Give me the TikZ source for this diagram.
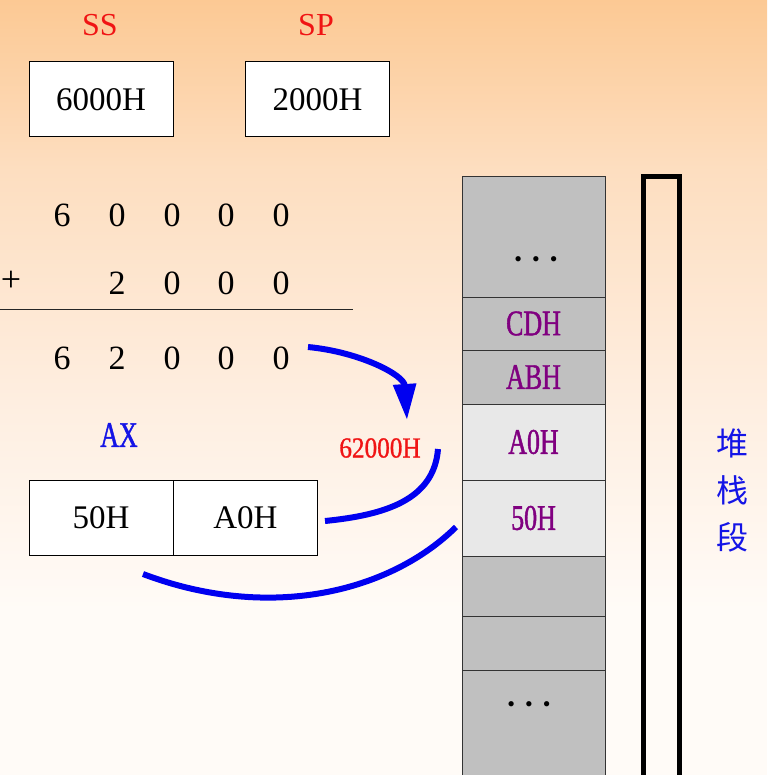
\documentclass[tikz,border=0pt]{standalone}
\usepackage{fontspec}
\setmainfont{Liberation Serif}
\newfontfamily\narrowserif[FakeStretch=0.87,FakeBold=1]{Liberation Serif}
\newfontfamily\condserif[FakeStretch=0.72,FakeBold=1.2]{Liberation Serif}
\newfontfamily\cjk{Noto Sans CJK SC}
\usetikzlibrary{arrows.meta}
\definecolor{bgA}{RGB}{252,201,148}
\definecolor{bgB}{RGB}{253,222,192}
\definecolor{bgC}{RGB}{254,238,224}
\definecolor{bgD}{RGB}{255,251,247}
\definecolor{cellgray}{RGB}{192,192,192}
\definecolor{celllight}{RGB}{232,232,232}
\definecolor{txtred}{RGB}{240,20,20}
\definecolor{txtblue}{RGB}{20,20,230}
\definecolor{txtpurple}{RGB}{128,0,128}
\definecolor{arrblue}{RGB}{0,0,240}
\begin{document}
\begin{tikzpicture}[x=1pt,y=-1pt,
  reglabel/.style={text=txtred, font=\fontsize{32}{32}\selectfont, inner sep=0pt},
  regbox/.style={draw=black, line width=1pt, fill=white, minimum width=144pt, minimum height=75pt, inner sep=0pt, font=\fontsize{33}{33}\selectfont},
  digit/.style={font=\fontsize{34}{34}\selectfont, inner sep=0pt},
  cell/.style={draw=black!80, line width=1pt, minimum width=143pt, inner sep=0pt, text=txtpurple, font=\condserif\fontsize{36}{36}\selectfont},
  dots/.style={font=\fontsize{22}{22}\selectfont, text=black, inner sep=0pt},
  bluearc/.style={draw=arrblue, line width=6pt},
]
\useasboundingbox (0,0) rectangle (767,775);
\clip (0,0) rectangle (767,775);
% background
\shade[top color=bgA, bottom color=bgB] (0,0) rectangle (767,170);
\shade[top color=bgB, bottom color=bgC] (0,170) rectangle (767,400);
\shade[top color=bgC, bottom color=bgD] (0,400) rectangle (767,610);
\fill[bgD] (0,610) rectangle (767,775);

% registers
\node[reglabel] (sslab) at (100,25) {SS};
\node[reglabel] (splab) at (316,25) {SP};
\node[regbox] (ss) at (101,99.5) {6000H};
\node[regbox] (sp) at (317.5,99.5) {2000H};

% addition
\foreach \x/\d [count=\i] in {62/6,117/0,172/0,226/0,281/0}
  \node[digit] (ra\i) at (\x,215) {\d};
\node[font=\fontsize{36}{36}\selectfont, inner sep=0pt] (plus) at (11,281) {+};
\foreach \x/\d [count=\i] in {117/2,172/0,226/0,281/0}
  \node[digit] (rb\i) at (\x,283) {\d};
\coordinate (ruleL) at (0,309);
\coordinate (ruleR) at (353,309);
\draw[line width=1pt, black!85] (ruleL) -- (ruleR);
\foreach \x/\d [count=\i] in {62/6,117/2,172/0,226/0,281/0}
  \node[digit] (rc\i) at (\x,358) {\d};

% AX register
\node[text=txtblue, font=\condserif\fontsize{36}{36}\selectfont, inner sep=0pt] (axlab) at (119,435) {AX};
\node[regbox] (ah) at (101,517.5) {50H};
\node[regbox] (al) at (245.5,517.5) {A0H};

% stack
\node[cell, fill=cellgray, minimum height=120pt] (c1) at (533.5,237) {};
\node[dots] (d1) at (536,262) {\textbullet\hspace{10pt}\textbullet\hspace{10pt}\textbullet};
\node[cell, fill=cellgray, minimum height=53pt] (c2) at (533.5,323.5) {CDH};
\node[cell, fill=cellgray, minimum height=54pt] (c3) at (533.5,377) {ABH};
\node[cell, fill=celllight, minimum height=76pt] (c4) at (533.5,442) {A0H};
\node[cell, fill=celllight, minimum height=76pt] (c5) at (533.5,518) {50H};
\node[cell, fill=cellgray, minimum height=60pt] (c6) at (533.5,586) {};
\node[cell, fill=cellgray, minimum height=54pt] (c7) at (533.5,643) {};
\node[cell, fill=cellgray, minimum height=120pt] (c8) at (533.5,730) {};
\node[dots] (d8) at (529,707) {\textbullet\hspace{10pt}\textbullet\hspace{10pt}\textbullet};

% segment bracket
\coordinate (bl) at (643,790);
\coordinate (tl) at (643,177);
\coordinate (tr) at (679,177);
\coordinate (br) at (679,790);
\draw[line width=5pt, line join=miter] (bl) -- (tl) -- (tr) -- (br);
\node[text=txtblue, font=\cjk\fontsize{32}{47}\selectfont, align=center, inner sep=0pt] (seg) at (732,490) {堆\\栈\\段};

% address label
\node[text=txtred, font=\narrowserif\fontsize{29}{29}\selectfont, inner sep=0pt] (addr) at (380,448) {62000H};

% arrows
\coordinate (a1s) at (308,347);
\coordinate (a1e) at (407,420);
\draw[bluearc, -{Triangle[length=36pt,width=22pt]}] (a1s) .. controls (360,352) and (404,375) .. (a1e);
\coordinate (a2s) at (438,449);
\coordinate (a2e) at (325,521);
\draw[bluearc] (a2s) .. controls (434,500) and (385,515) .. (a2e);
\coordinate (a3s) at (456,527);
\coordinate (a3e) at (143,574);
\draw[bluearc] (a3s) .. controls (390,592) and (270,622) .. (a3e);
\end{tikzpicture}
\end{document}
